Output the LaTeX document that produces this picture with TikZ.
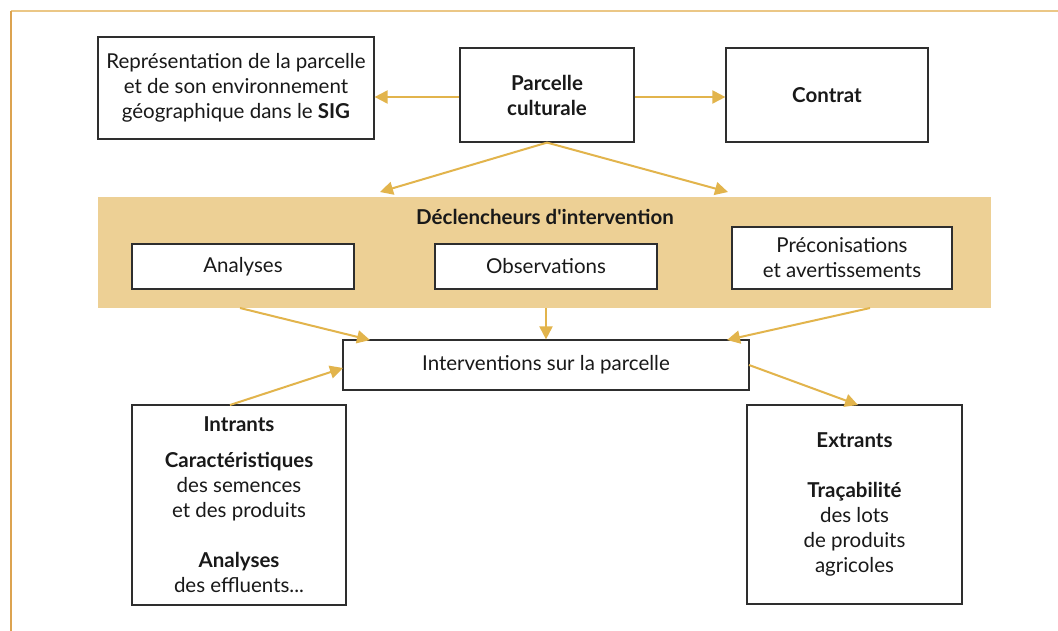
\documentclass[tikz,border=0pt]{standalone}
\usepackage{fontspec}
\setmainfont{Lato}
\usetikzlibrary{arrows.meta}
\definecolor{arr}{HTML}{E2B44C}
\definecolor{bandc}{HTML}{EDD095}
\definecolor{frtop}{HTML}{EBC786}
\definecolor{frleft}{HTML}{DCA350}
\definecolor{boxc}{HTML}{2E2E2E}
\tikzset{
  box/.style={draw=boxc, line width=1.2pt, fill=white, inner sep=0pt, align=center, font=\fontsize{20.5}{25}\selectfont, text=black!90},
  conn/.style={draw=arr, line width=2pt, -{Triangle[length=13pt,width=13pt]}},
}
\begin{document}
\begin{tikzpicture}[x=1pt,y=-1pt]
\useasboundingbox (0,0) rectangle (1058,631);
\fill[white] (0,0) rectangle (1058,631);
% frame
\draw[frtop, line width=1.5pt] (11,11) -- (1058,11);
\draw[frleft, line width=1.5pt] (11,11) -- (11,631);
% band
\node[fill=bandc, inner sep=0pt, minimum width=893pt, minimum height=111pt] (band) at (544.5,252.5) {};
\node[font=\fontsize{20.5}{25}\selectfont\bfseries, text=black!90] (decl) at (545,217) {Déclencheurs d\textquotesingle intervention};
% top boxes
\node[box, minimum width=276pt, minimum height=102pt] (sig) at (236,88) {Représentation de la parcelle\\et de son environnement\\géographique dans le \textbf{SIG}};
\node[box, minimum width=174pt, minimum height=94pt] (parc) at (547,95) {\textbf{Parcelle}\\\textbf{culturale}};
\node[box, minimum width=202pt, minimum height=94pt] (contrat) at (827,95) {\textbf{Contrat}};
% band boxes
\node[box, minimum width=222pt, minimum height=45pt] (ana) at (243,266.5) {Analyses};
\node[box, minimum width=222pt, minimum height=45pt] (obs) at (546,266.5) {Observations};
\node[box, minimum width=220pt, minimum height=62pt] (prec) at (842,258) {Préconisations\\et avertissements};
% interventions
\node[box, minimum width=406pt, minimum height=50pt] (interv) at (546,365) {Interventions sur la parcelle};
% bottom boxes
\node[box, minimum width=214pt, minimum height=200pt] (intr) at (239,505) {\textbf{Intrants}\\[11pt]\textbf{Caractéristiques}\\des semences\\et des produits\\[25pt]\textbf{Analyses}\\des effluents...};
\node[box, minimum width=215pt, minimum height=199pt] (extr) at (854.5,504.5) {\textbf{Extrants}\\[25pt]\textbf{Traçabilité}\\des lots\\de produits\\agricoles};
% coordinates
\coordinate (p1) at (380,192);
\coordinate (p2) at (728,192);
\coordinate (b1) at (240,308);
\coordinate (b2) at (546,308);
\coordinate (b3) at (870,308);
\coordinate (i1) at (370,340);
\coordinate (i3) at (727,340);
\coordinate (i4) at (343,368);
\coordinate (i5) at (749,365);
\coordinate (x1) at (230,405);
\coordinate (x2) at (858,405);
% connectors
\draw[conn] (parc.west |- 0,97) -- (sig.east |- 0,97);
\draw[conn] (parc.east |- 0,97) -- (contrat.west |- 0,97);
\draw[conn] (parc.south) -- (p1);
\draw[conn] (parc.south) -- (p2);
\draw[conn] (b1) -- (i1);
\draw[conn] (b2) -- (interv.north);
\draw[conn] (b3) -- (i3);
\draw[conn] (x1) -- (i4);
\draw[conn] (i5) -- (x2);
\end{tikzpicture}
\end{document}
